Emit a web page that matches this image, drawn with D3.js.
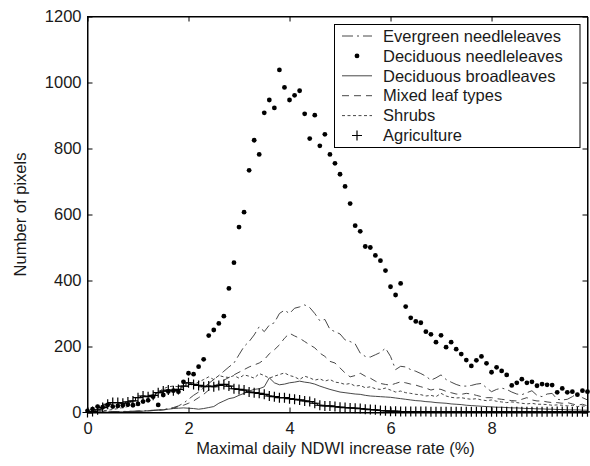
<!DOCTYPE html>
<html>
<head>
<meta charset="utf-8">
<script src="https://cdn.jsdelivr.net/npm/d3@7"></script>
<style>
  body { margin: 0; background: #fff; }
  svg { font-family: "Liberation Sans", Arial, sans-serif; }
</style>
</head>
<body>
<svg></svg>
<script>
var width = 590, height = 466;
var xStep = 0.1;

// series values, one per 0.1 step of x starting at 0
var evergreenNeedle = [0,1,1,2,2,3,3,3,4,4, 5,5,6,7,8,9,12,15,20,28,
  40,52,62,75,88,100,112,125,138,150, 175,200,215,235,260,245,265,272,300,310,
  300,316,320,326,318,300,278,282,252,245, 238,220,215,208,180,170,168,175,182,195,
  170,130,140,138,130,125,118,110,98,105, 114,100,92,85,80,80,82,86,88,75,
  63,70,74,70,62,56,54,60,66,52, 48,56,58,40,38,40,48,58,45,38];

var deciduousNeedle = [5,10,18,16,23,18,20,22,24,22, 26,33,37,48,23,53,64,66,63,93,
  119,116,139,161,233,250,270,292,376,454, 562,607,734,825,782,908,947,923,1038,985,
  947,961,975,905,830,901,808,843,782,755, 722,685,633,566,549,503,500,476,460,430,
  381,356,391,321,287,276,272,245,237,213, 234,198,213,192,177,159,141,158,170,149,
  122,137,126,114,82,90,101,90,93,81, 86,84,83,61,73,61,63,54,66,63];

var deciduousBroad = [0,0,1,1,1,2,2,2,3,3, 3,4,5,6,7,8,10,12,13,14,
  13,12,10,12,15,18,28,35,42,45, 52,58,65,70,72,78,105,90,84,86,
  90,92,95,92,90,86,80,75,70,66, 62,60,58,56,55,52,50,49,48,47,
  46,44,42,40,38,36,35,33,32,30, 29,28,26,25,24,22,21,20,19,18,
  17,16,16,15,14,14,13,12,12,11, 11,10,10,9,9,8,8,8,7,7];

var mixedLeaf = [0,1,1,1,2,2,2,3,3,3, 4,4,5,6,7,8,10,13,18,22,
  28,35,45,55,68,78,88,98,106,114, 122,130,138,144,150,160,178,190,205,225,
  240,232,225,215,205,196,180,170,155,150, 135,120,108,112,119,110,104,95,88,85,
  83,88,93,90,86,83,78,74,68,72, 70,64,60,56,55,58,56,52,48,45,
  45,42,40,38,36,35,40,45,38,35, 35,32,30,30,28,30,26,22,25,20];

var shrubs = [1,2,3,5,7,9,12,15,18,22, 26,32,40,50,62,72,78,80,78,76,
  80,86,92,100,108,100,112,108,106,112, 104,114,110,104,118,112,104,110,115,120,
  112,108,100,110,105,98,102,95,100,92, 90,85,88,80,82,75,78,72,70,74,
  68,62,65,60,58,55,54,50,52,48, 58,50,46,44,45,42,40,42,38,36,
  38,34,32,30,32,30,28,26,28,25, 25,24,22,23,22,20,22,18,20,18];

var agriculture = [0,3,8,15,25,30,30,28,32,35, 45,50,48,52,60,65,68,66,70,80,
  90,85,82,78,80,78,82,85,80,72, 70,68,62,60,58,55,50,48,45,45,
  42,40,38,35,33,28,22,20,20,18, 16,15,14,13,12,10,9,8,6,5,
  4,4,3,3,3,3,3,3,2,2, 2,2,2,2,2,2,2,2,2,2,
  2,2,2,2,2,2,2,2,2,2, 2,2,2,3,3,3,2,2,2,2];

var legendNames = ["Evergreen needleleaves", "Deciduous needleleaves", "Deciduous broadleaves",
  "Mixed leaf types", "Shrubs", "Agriculture"];
var xTicks = [0, 2, 4, 6, 8];
var yTicks = [0, 200, 400, 600, 800, 1000, 1200];

var plotLeft = 87.5, plotRight = 587.5, plotTop = 16.5, plotBottom = 412.5;
var textColor = "#1a1a1a";

var xScale = d3.scaleLinear().domain([0, 9.9]).range([plotLeft, plotRight]);
var yScale = d3.scaleLinear().domain([0, 1200]).range([plotBottom, plotTop]);

var svg = d3.select("svg")
  .attr("width", width)
  .attr("height", height);

function toPoints(arr) {
  return arr.map((v, i) => ({x: i * xStep, y: v}));
}

var line = d3.line()
  .x(d => xScale(d.x))
  .y(d => yScale(d.y));

var stepLine = d3.line()
  .x(d => xScale(d.x))
  .y(d => yScale(d.y))
  .curve(d3.curveStep);

// line series
var dashes = {evergreen: "11,4,2,4", mixed: "7,5", shrubs: "3,2.5", broad: null};
var lineSeries = [
  {data: evergreenNeedle, dash: dashes.evergreen},
  {data: mixedLeaf, dash: dashes.mixed},
  {data: shrubs, dash: dashes.shrubs},
  {data: deciduousBroad, dash: dashes.broad}
];

lineSeries.forEach(s => {
  svg.append("path")
    .datum(toPoints(s.data))
    .attr("d", line)
    .attr("fill", "none")
    .attr("stroke", "#333")
    .attr("stroke-width", 0.9)
    .attr("stroke-dasharray", s.dash);
});

// agriculture: stairs + plus markers
svg.append("path")
  .datum(toPoints(agriculture))
  .attr("d", stepLine)
  .attr("fill", "none")
  .attr("stroke", "#000")
  .attr("stroke-width", 1);

function plus(sel, size) {
  sel.append("path")
    .attr("d", `M${-size},0H${size}M0,${-size}V${size}`)
    .attr("stroke", "#000")
    .attr("stroke-width", 1.2)
    .attr("fill", "none");
}

svg.append("g").selectAll("g")
  .data(toPoints(agriculture))
  .enter()
  .append("g")
    .attr("transform", d => `translate(${xScale(d.x)},${yScale(d.y)})`)
    .call(plus, 5);

// deciduous needleleaves dots
svg.append("g").selectAll("circle")
  .data(toPoints(deciduousNeedle))
  .enter()
  .append("circle")
    .attr("cx", d => xScale(d.x))
    .attr("cy", d => yScale(d.y))
    .attr("r", 2.4)
    .attr("fill", "#000");

// axes box
svg.append("rect")
  .attr("x", plotLeft)
  .attr("y", plotTop)
  .attr("width", plotRight - plotLeft)
  .attr("height", plotBottom - plotTop)
  .attr("fill", "none")
  .attr("stroke", "#000")
  .attr("stroke-width", 1);

var xAxis = d3.axisBottom(xScale).tickValues(xTicks).tickSize(-5).tickSizeOuter(0).tickPadding(10);
var yAxis = d3.axisLeft(yScale).tickValues(yTicks).tickSize(-5).tickSizeOuter(0).tickPadding(6)
  .tickFormat(d3.format("d"));

svg.append("g")
  .attr("transform", `translate(0, ${plotBottom})`)
  .call(xAxis);

svg.append("g")
  .attr("transform", `translate(${plotLeft}, 0)`)
  .call(yAxis);

// ticks on top and right edges
svg.append("g")
  .attr("transform", `translate(0, ${plotTop})`)
  .call(d3.axisTop(xScale).tickValues(xTicks).tickSize(-5).tickSizeOuter(0).tickFormat(""));
svg.append("g")
  .attr("transform", `translate(${plotRight}, 0)`)
  .call(d3.axisRight(yScale).tickValues(yTicks).tickSize(-5).tickSizeOuter(0).tickFormat(""));

svg.selectAll(".domain").attr("stroke", "#000");
svg.selectAll(".tick line").attr("stroke", "#000");
svg.selectAll(".tick text")
  .style("font-size", "16.5px")
  .attr("fill", textColor)
  .style("font-family", "'Liberation Sans', Arial, sans-serif");

// axis labels
svg.append("text")
  .attr("x", (plotLeft + plotRight) / 2 - 2)
  .attr("y", 454)
  .attr("fill", textColor)
  .style("text-anchor", "middle")
  .style("font-size", "16.5px")
  .text("Maximal daily NDWI increase rate (%)");

svg.append("text")
  .attr("transform", "rotate(-90)")
  .attr("x", -(plotTop + plotBottom) / 2)
  .attr("y", 26)
  .attr("fill", textColor)
  .style("text-anchor", "middle")
  .style("font-size", "16.5px")
  .text("Number of pixels");

// legend
var legend = svg.append("g");
legend.append("rect")
  .attr("x", 334.5)
  .attr("y", 24.5)
  .attr("width", 245.5)
  .attr("height", 123)
  .attr("fill", "#fff")
  .attr("stroke", "#000")
  .attr("stroke-width", 1);

var rowY = d3.scaleLinear().domain([0, 5]).range([36, 135.5]);
var legendDash = [dashes.evergreen, null, dashes.broad, dashes.mixed, dashes.shrubs, null];

legendNames.forEach((name, i) => {
  var y = rowY(i);
  if (i === 1) {
    legend.append("circle").attr("cx", 357).attr("cy", y).attr("r", 2.4).attr("fill", "#000");
  } else if (i === 5) {
    legend.append("g").attr("transform", `translate(357, ${y})`).call(plus, 5);
  } else {
    legend.append("line")
      .attr("x1", 342).attr("x2", 372)
      .attr("y1", y).attr("y2", y)
      .attr("stroke", "#333")
      .attr("stroke-width", 0.9)
      .attr("stroke-dasharray", legendDash[i]);
  }
  legend.append("text")
    .attr("x", 383)
    .attr("y", y)
    .attr("dy", "0.35em")
    .attr("fill", textColor)
    .style("font-size", "16.5px")
    .text(name);
});
</script>
</body>
</html>
